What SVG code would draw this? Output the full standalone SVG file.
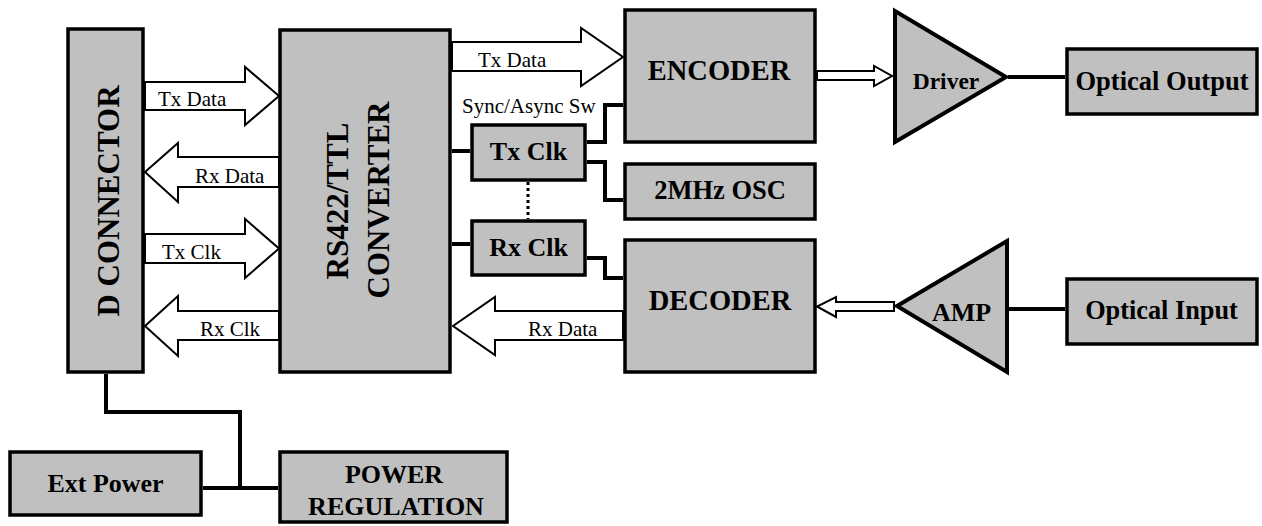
<svg xmlns="http://www.w3.org/2000/svg" width="1262" height="526" viewBox="0 0 1262 526">
<style>
.box{fill:#c0c0c0;stroke:#000;stroke-width:3.5}
.tri{fill:#c0c0c0;stroke:#000;stroke-width:4;stroke-linejoin:miter}
.bus{fill:#fff;stroke:#000;stroke-width:2;stroke-linejoin:miter}
.wire{fill:none;stroke:#000;stroke-width:4;stroke-linejoin:miter}
.lbl{font-family:"Liberation Serif","Times New Roman",serif;font-size:21px;fill:#000}
.nl{font-family:"Liberation Serif","Times New Roman",serif;font-weight:bold;fill:#000;text-anchor:middle}
</style>
<rect width="1262" height="526" fill="#fff"/>
<g id="connectors">
  <polygon class="bus" points="145,82 245,82 245,67 279,96 245,125 245,110 145,110"/>
  <polygon class="bus" points="279,157 178,157 178,143 145,172 178,202 178,187 279,187"/>
  <polygon class="bus" points="145,234 245,234 245,219 279,248.5 245,278 245,263 145,263"/>
  <polygon class="bus" points="279,311 178,311 178,296 145,326 178,356 178,340 279,340"/>
  <polygon class="bus" points="452,42 581,42 581,28 623,57 581,86 581,71 452,71"/>
  <polygon class="bus" points="623,311 495,311 495,297 453,326 495,355 495,340 623,340"/>
  <polygon class="bus" points="817,71 874,71 874,66 892,76 874,86 874,80 817,80"/>
  <polygon class="bus" points="894,302 836,302 836,297 817,306.5 836,317 836,311 894,311"/>
  <path class="wire" d="M106,374 V412 H240 V488 M203,488 H278"/>
  <path class="wire" d="M452,151 H470 M452,244 H470"/>
  <path class="wire" d="M587,142 H605 V105 H623 M587,162 H605 V200 H623 M587,258 H605 V278 H623"/>
  <path class="wire" d="M528,182 V219" stroke-dasharray="3,3" style="stroke-width:3"/>
  <path class="wire" d="M1008,77 H1065 M1008,309 H1065"/>
  <text class="lbl" x="158" y="106">Tx Data</text>
  <text class="lbl" x="195" y="183">Rx Data</text>
  <text class="lbl" x="162" y="259">Tx Clk</text>
  <text class="lbl" x="200" y="336">Rx Clk</text>
  <text class="lbl" x="478" y="67">Tx Data</text>
  <text class="lbl" x="528" y="336">Rx Data</text>
  <text class="lbl" x="462" y="113">Sync/Async Sw</text>
</g>
<g id="d-connector">
  <rect class="box" x="68" y="29" width="75" height="343"/>
  <text class="nl" font-size="31" transform="translate(119,201) rotate(-90)">D CONNECTOR</text>
</g>
<g id="rs422-converter">
  <rect class="box" x="280" y="30" width="170" height="342"/>
  <text class="nl" font-size="31" transform="translate(348,201) rotate(-90)">RS422/TTL</text>
  <text class="nl" font-size="31" transform="translate(389,200) rotate(-90)">CONVERTER</text>
</g>
<g id="tx-clk">
  <rect class="box" x="472" y="125" width="113" height="55"/>
  <text class="nl" font-size="26" x="528.5" y="160">Tx Clk</text>
</g>
<g id="rx-clk">
  <rect class="box" x="472" y="221" width="113" height="54"/>
  <text class="nl" font-size="26" x="528.5" y="256">Rx Clk</text>
</g>
<g id="encoder">
  <rect class="box" x="625" y="10" width="190" height="132"/>
  <text class="nl" font-size="28.5" x="719" y="80">ENCODER</text>
</g>
<g id="osc">
  <rect class="box" x="625" y="164" width="190" height="55"/>
  <text class="nl" font-size="26.5" x="720" y="199">2MHz OSC</text>
</g>
<g id="decoder">
  <rect class="box" x="625" y="240" width="190" height="132"/>
  <text class="nl" font-size="28.5" x="720" y="310">DECODER</text>
</g>
<g id="driver">
  <polygon class="tri" points="895,11 895,142 1006,77"/>
  <text class="nl" font-size="23.5" x="946" y="89">Driver</text>
</g>
<g id="amp">
  <polygon class="tri" points="897,306 1007,241 1007,372"/>
  <text class="nl" font-size="26" x="961.5" y="321">AMP</text>
</g>
<g id="optical-output">
  <rect class="box" x="1067" y="49" width="190" height="65"/>
  <text class="nl" font-size="26.5" x="1162" y="90">Optical Output</text>
</g>
<g id="optical-input">
  <rect class="box" x="1067" y="279" width="190" height="65"/>
  <text class="nl" font-size="26.3" x="1161.5" y="319">Optical Input</text>
</g>
<g id="ext-power">
  <rect class="box" x="10" y="452" width="191" height="63"/>
  <text class="nl" font-size="26" x="105.5" y="492">Ext Power</text>
</g>
<g id="power-regulation">
  <rect class="box" x="280" y="452" width="227" height="70"/>
  <text class="nl" font-size="26" x="394" y="483">POWER</text>
  <text class="nl" font-size="26" x="396" y="515">REGULATION</text>
</g>
</svg>
